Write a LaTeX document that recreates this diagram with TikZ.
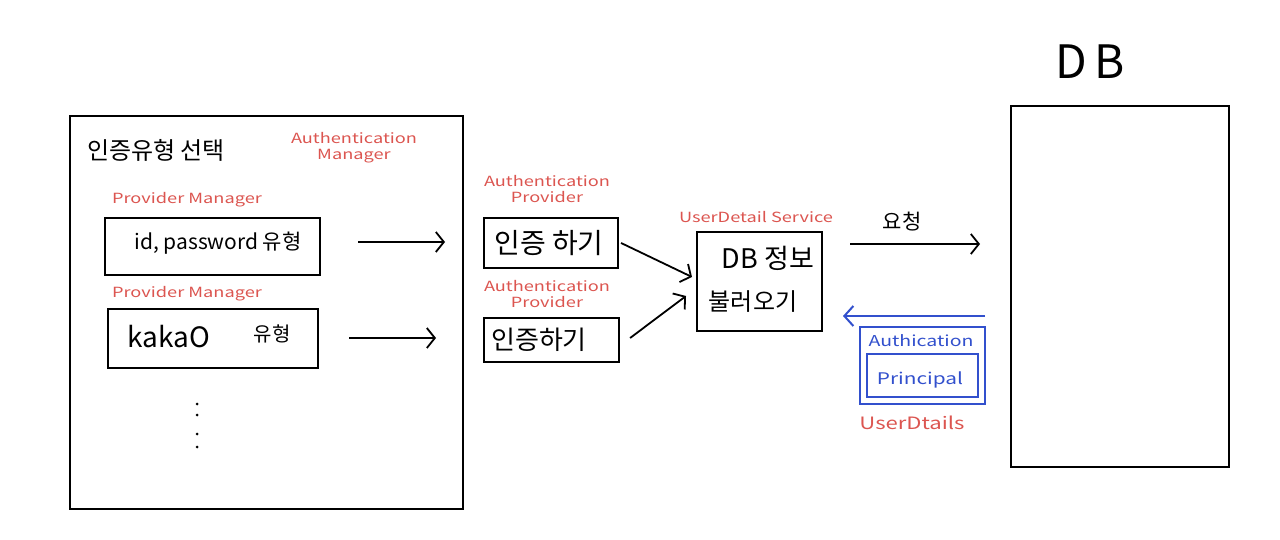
\documentclass[tikz,border=0pt]{standalone}
\usepackage{fontspec}
\setmainfont{Noto Sans CJK KR}
\newfontfamily\widefont[FakeStretch=1.3]{Noto Sans CJK KR}
\usetikzlibrary{arrows.meta}
\definecolor{hred}{RGB}{220,85,80}
\definecolor{hblue}{RGB}{50,80,205}
\begin{document}
\begin{tikzpicture}[x=1pt,y=-1pt,
  bx/.style={draw=black,line width=2.2pt,inner sep=0pt},
  blk/.style={font=\fontsize{21}{24}\selectfont,text=black},
  rlab/.style={font=\widefont\fontsize{14}{16}\selectfont,text=hred,align=center},
  blab/.style={font=\widefont\fontsize{15}{17}\selectfont,text=hblue},
  arr/.style={line width=1.8pt,-{Straight Barb[length=8pt,width=20pt,line width=1.8pt]}},
  bluebox/.style={draw=hblue,line width=2.2pt}]
\useasboundingbox (0,0) rectangle (1280,540);
\fill[white] (0,0) rectangle (1280,540);
% left big box
\draw[bx] (70,116) rectangle (463,509);
\node[blk,font=\fontsize{24}{28}\selectfont] (title) at (156,150) {인증유형 선택};
\node[rlab] (am) at (354,148) {Authentication\\Manager};
\node[rlab] (pm1) at (187,200) {Provider Manager};
\node[bx,minimum width=215pt,minimum height=57pt] (b1) at (212.5,246.5) {};
\node[blk] (b1t) at (218,243) {id, password 유형};
\node[rlab] (pm2) at (187,294) {Provider Manager};
\node[bx,minimum width=210pt,minimum height=59pt] (b2) at (213,338.5) {};
\node[blk,font=\fontsize{28}{30}\selectfont] (b2t) at (169,337) {kakaO};
\node[blk,font=\fontsize{20}{22}\selectfont] (b2u) at (272,334) {유형};
\foreach \yy/\nm in {404/d1,415/d2,434/d3,447/d4}
  \fill (197,\yy) circle (1.5pt);
\coordinate (a1s) at (358,242);
\coordinate (a1e) at (445,242);
\draw[arr] (a1s) -- (a1e);
\coordinate (a2s) at (349,338);
\coordinate (a2e) at (436,338);
\draw[arr] (a2s) -- (a2e);
% providers
\node[rlab] (ap1) at (547,189) {Authentication\\Provider};
\node[bx,minimum width=134pt,minimum height=50pt] (p1) at (551,243) {};
\node[blk,font=\fontsize{28}{30}\selectfont] (p1t) at (549,243) {인증 하기};
\node[rlab] (ap2) at (547,294) {Authentication\\Provider};
\node[bx,minimum width=135pt,minimum height=44pt] (p2) at (551.5,340) {};
\node[blk,font=\fontsize{26}{28}\selectfont] (p2t) at (539,340) {인증하기};
% userdetail service
\node[rlab] (uds) at (756,217) {UserDetail Service};
\node[bx,minimum width=125pt,minimum height=99pt] (db) at (759.5,281.5) {};
\node[blk,font=\fontsize{27}{30}\selectfont] (dbt1) at (768,258) {DB 정보};
\node[blk,font=\fontsize{24}{26}\selectfont] (dbt2) at (753,302) {불러오기};
\coordinate (m1) at (692,277);
\coordinate (m2) at (686,296);
\draw[arr] (p1.east) ++(2,0) -- (m1);
\draw[arr] (p2.east) ++(10,-2) -- (m2);
% request
\node[blk,font=\fontsize{21}{23}\selectfont] (req) at (902,222) {요청};
\coordinate (r1) at (850,244);
\coordinate (r2) at (980,244);
\draw[arr] (r1) -- (r2);
% blue return
\coordinate (bl1) at (985,316);
\coordinate (bl2) at (843,316);
\draw[line width=2pt,draw=hblue,-{Straight Barb[length=9pt,width=20pt,line width=2pt]}] (bl1) -- (bl2);
\draw[bluebox] (860,327) rectangle (985,404);
\node[blab] (auth) at (921,341) {Authication};
\node[bluebox,minimum width=111pt,minimum height=43pt] (princ) at (922.5,375.5) {};
\node[blab,font=\widefont\fontsize{16}{18}\selectfont] (princt) at (920,380) {Principal};
\node[rlab,font=\widefont\fontsize{17}{19}\selectfont] (ud) at (912,423) {UserDtails};
% DB
\node[font=\fontsize{46}{50}\selectfont] (dblab) at (1090,62) {D\,B};
\node[bx,minimum width=218pt,minimum height=361pt] (dbbox) at (1120,286.5) {};
\end{tikzpicture}
\end{document}
